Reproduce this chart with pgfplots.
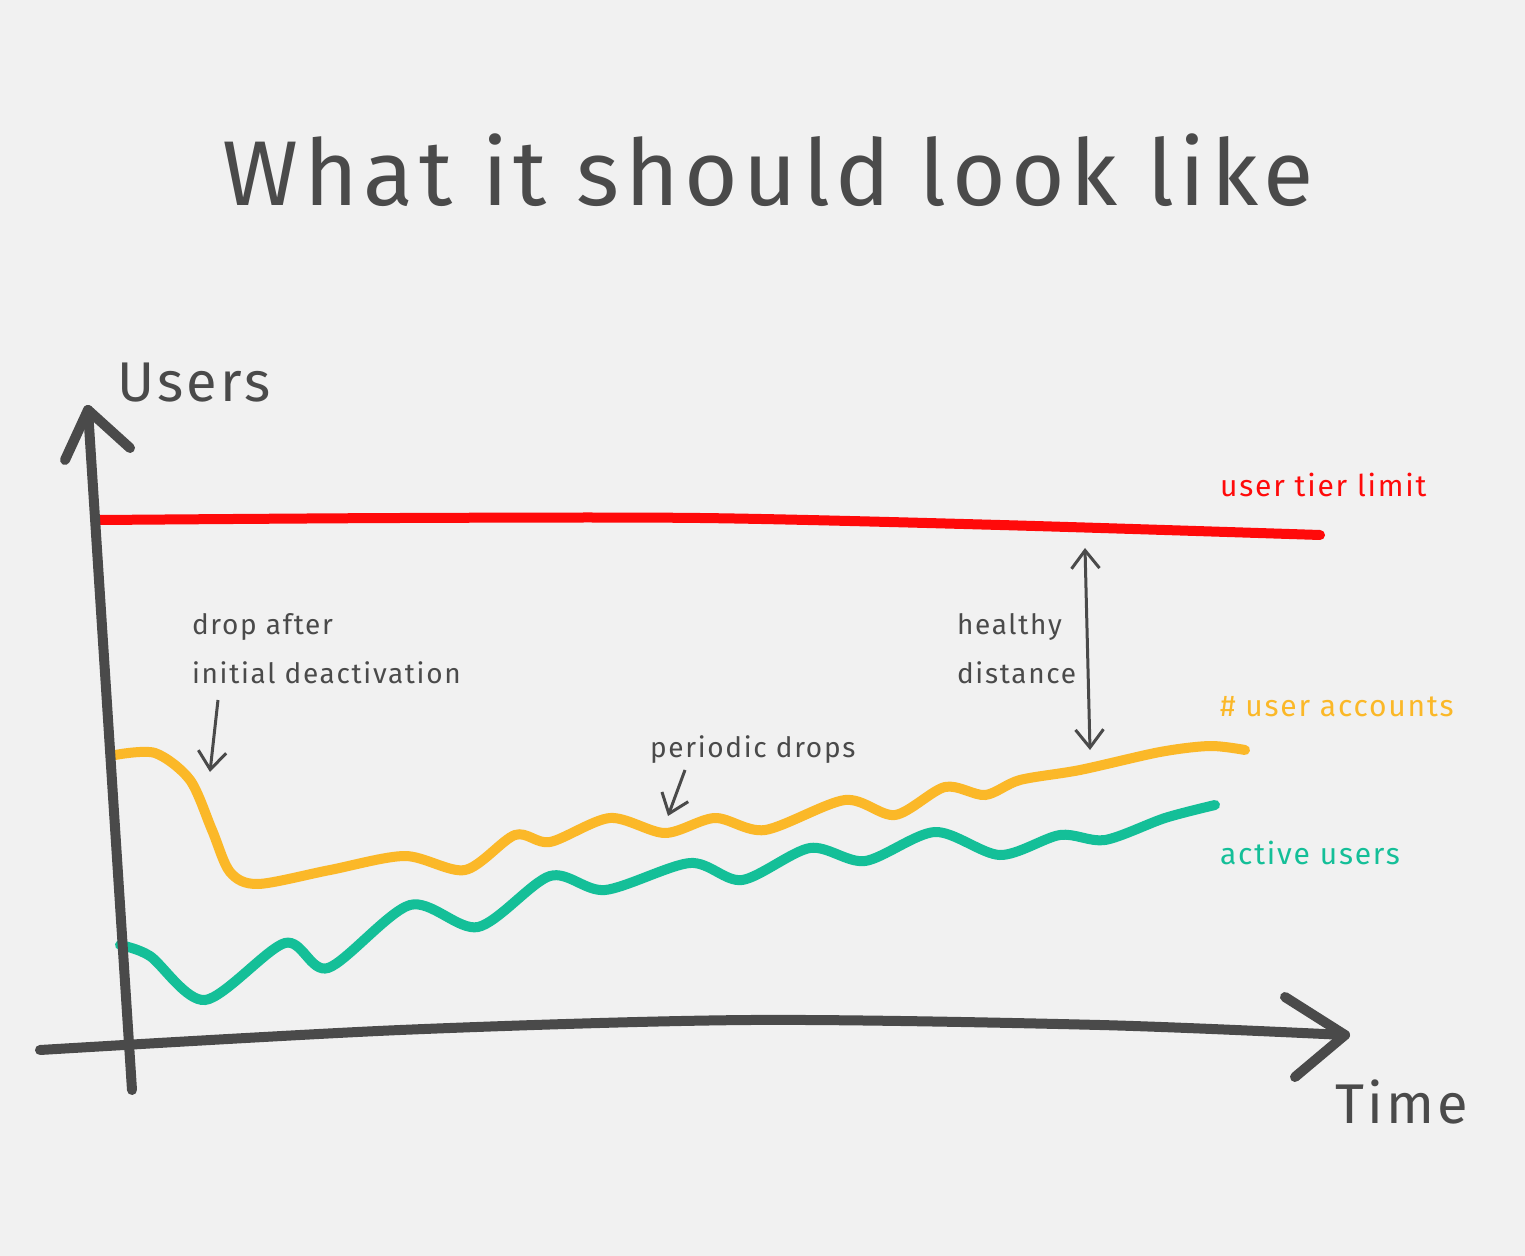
\documentclass[border=0pt]{standalone}
\usepackage{pgfplots}
\pgfplotsset{compat=1.18}
\usepackage{fontspec}
\setmainfont{Fira Sans}
\newfontfamily\wide[LetterSpace=6]{Fira Sans}
\usetikzlibrary{arrows.meta}
\definecolor{bg}{HTML}{F1F1F1}
\definecolor{ink}{HTML}{4A4A4A}
\definecolor{lim}{HTML}{FF0A0A}
\definecolor{acc}{HTML}{FBB828}
\definecolor{act}{HTML}{14BF98}
\begin{document}
\begin{tikzpicture}
\begin{axis}[
  width=762.5pt, height=628pt, scale only axis,
  xmin=0, xmax=1525, ymin=0, ymax=1256, y dir=reverse,
  hide axis, clip=false,
]
\fill[bg] (axis cs:0,0) rectangle (axis cs:1525,1256);

% user tier limit
\addplot[lim, line width=5pt, line cap=round, smooth] coordinates {
(100,520) (400,518) (700,518) (1000,525) (1320,535)};

% # user accounts
\addplot[acc, line width=5pt, line cap=round, smooth] coordinates {
(115,755) (155,753) (190,780) (212,830) (230,872) (258,884)
(330,870) (405,856) (465,870) (515,835) (550,842) (610,818)
(665,833) (715,818) (765,830) (845,800) (895,815) (945,787)
(985,795) (1020,780) (1080,770) (1160,752) (1210,746) (1245,750)};

% active users
\addplot[act, line width=5pt, line cap=round, smooth] coordinates {
(120,945) (150,956) (205,1000) (285,943) (328,968) (410,905)
(478,927) (550,876) (605,890) (690,863) (742,880) (810,848)
(865,861) (935,832) (1000,855) (1060,835) (1105,840) (1165,818)
(1215,805)};

% axes
\addplot[ink, line width=5pt, line cap=round] coordinates {(132,1090) (88,410)};
\addplot[ink, line width=5pt, line cap=round, line join=round] coordinates {(65,460) (88,410) (130,448)};
\addplot[ink, line width=5pt, line cap=round, smooth] coordinates {(40,1050) (400,1030) (750,1020) (1100,1025) (1345,1035)};
\addplot[ink, line width=5pt, line cap=round, line join=round] coordinates {(1285,997) (1345,1035) (1295,1077)};

% annotations
\draw[ink, line width=1.5pt, -{Straight Barb[length=9pt,width=14pt]}] (axis cs:218,700) -- (axis cs:210,772);
\draw[ink, line width=1.5pt, -{Straight Barb[length=9pt,width=14pt]}] (axis cs:685,770) -- (axis cs:668,816);
\draw[ink, line width=1.5pt, {Straight Barb[length=9pt,width=14pt]}-{Straight Barb[length=9pt,width=14pt]}] (axis cs:1085,548) -- (axis cs:1090,750);

% text
\node[ink, font=\wide\fontsize{46}{50}\selectfont] at (axis cs:768,170) {What it should look like};
\node[ink, font=\wide\fontsize{28}{30}\selectfont, anchor=west] at (axis cs:110,383) {Users};
\node[ink, font=\wide\fontsize{28}{30}\selectfont, anchor=west] at (axis cs:1328,1102) {Time};
\node[lim, font=\wide\fontsize{15}{17}\selectfont, anchor=west] at (axis cs:1213,485) {user tier limit};
\node[acc, font=\wide\fontsize{15}{17}\selectfont, anchor=west] at (axis cs:1213,707) {\# user accounts};
\node[act, font=\wide\fontsize{15}{17}\selectfont, anchor=west] at (axis cs:1213,853) {active users};
\node[ink, font=\wide\fontsize{14}{16}\selectfont, anchor=west] at (axis cs:185,627) {drop after};
\node[ink, font=\wide\fontsize{14}{16}\selectfont, anchor=west] at (axis cs:185,673) {initial deactivation};
\node[ink, font=\wide\fontsize{14}{16}\selectfont, anchor=west] at (axis cs:950,627) {healthy};
\node[ink, font=\wide\fontsize{14}{16}\selectfont, anchor=west] at (axis cs:950,673) {distance};
\node[ink, font=\wide\fontsize{14}{16}\selectfont, anchor=west] at (axis cs:643,750) {periodic drops};
\end{axis}
\end{tikzpicture}
\end{document}
